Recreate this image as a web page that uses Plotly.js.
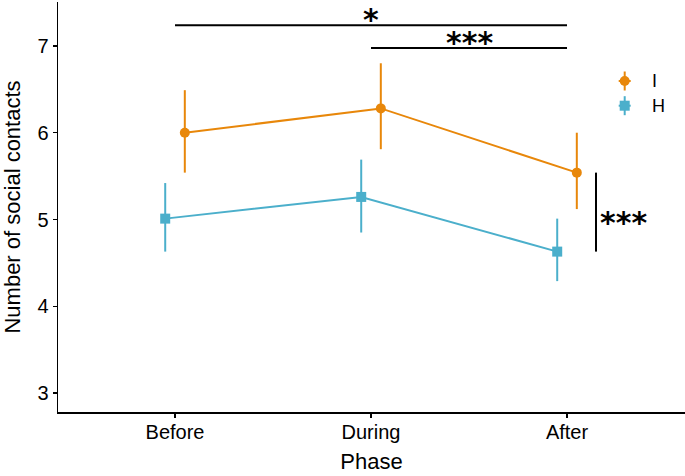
<!DOCTYPE html>
<html>
<head>
<meta charset="utf-8">
<script src="https://cdn.plot.ly/plotly-3.0.1.min.js"></script>
<style>html,body{margin:0;padding:0;background:#fff;}#chart{width:685px;height:476px;}</style>
</head>
<body>
<div id="chart"></div>
<script>
// ---- data ----
var categories = ['Before', 'During', 'After'];
var groupNames = ['I', 'H'];
var I_mean  = [6.00, 6.28, 5.54];
var I_upper = [6.49, 6.80, 6.00];
var I_lower = [5.54, 5.81, 5.12];
var H_mean  = [5.01, 5.26, 4.63];
var H_upper = [5.42, 5.69, 5.01];
var H_lower = [4.63, 4.85, 4.29];
var yTicks = [3, 4, 5, 6, 7];
// significance: [fromIndex, toIndex, label]
var sigPhase = [[0, 2, '*'], [1, 2, '***']];
var sigGroupLabel = '***';

var colI = '#E8870A', colH = '#4BAFCB';
var dodge = 0.05;
var idx = categories.map(function (c, i) { return i; });

function errUp(m, u) { return u.map(function (v, i) { return v - m[i]; }); }
function errDn(m, l) { return l.map(function (v, i) { return m[i] - v; }); }

var traces = [
  {
    x: idx.map(function (i) { return i + dodge; }), y: I_mean, name: groupNames[0],
    mode: 'lines+markers', type: 'scatter', showlegend: false,
    line: {color: colI, width: 2},
    marker: {color: colI, size: 10, symbol: 'circle'},
    error_y: {type: 'data', symmetric: false, array: errUp(I_mean, I_upper), arrayminus: errDn(I_mean, I_lower), color: colI, thickness: 2, width: 0}
  },
  {
    x: idx.map(function (i) { return i - dodge; }), y: H_mean, name: groupNames[1],
    mode: 'lines+markers', type: 'scatter', showlegend: false,
    line: {color: colH, width: 2},
    marker: {color: colH, size: 10, symbol: 'square'},
    error_y: {type: 'data', symmetric: false, array: errUp(H_mean, H_upper), arrayminus: errDn(H_mean, H_lower), color: colH, thickness: 2, width: 0}
  }
];

// layout geometry
var W = 685, H = 476, mL = 58, mR = 0, mT = 2, mB = 64;
var pw = W - mL - mR, ph = H - mT - mB;
function px2x(p) { return p / pw; }
function px2y(p) { return p / ph; }

var starFont = {size: 30, color: 'black', family: 'DejaVu Sans, sans-serif', weight: 'bold'};
var shapes = [];
var annotations = [];
// phase significance bars
var sigY = [7.238, 6.977];
sigPhase.forEach(function (s, k) {
  shapes.push({type: 'line', xref: 'x', yref: 'y', x0: s[0], x1: s[1], y0: sigY[k], y1: sigY[k], line: {color: 'black', width: 2}});
  annotations.push({xref: 'x', yref: 'y', x: (s[0] + s[1]) / 2, y: sigY[k], text: '<b>' + s[2] + '</b>', showarrow: false, yanchor: 'bottom', yshift: -14, font: starFont});
});
// group significance at the last phase
var gx = 2.148;
shapes.push({type: 'line', xref: 'x', yref: 'y', x0: gx, x1: gx, y0: I_mean[2], y1: H_mean[2], line: {color: 'black', width: 2}});
annotations.push({xref: 'x', yref: 'y', x: gx, y: (I_mean[2] + H_mean[2]) / 2, text: '<b>' + sigGroupLabel + '</b>', showarrow: false, xanchor: 'left', yanchor: 'middle', xshift: 2, yshift: -10, font: starFont});

// custom legend (marker with error-bar cross)
var legX = px2x(624.7 - mL);
var legYs = [px2y(H - mB - 81), px2y(H - mB - 105.7)];
var legCols = [colI, colH];
var legShapes = ['circle', 'rect'];
groupNames.forEach(function (g, k) {
  var cy = legYs[k];
  shapes.push({type: 'line', xref: 'paper', yref: 'paper', x0: legX - px2x(6), x1: legX + px2x(6), y0: cy, y1: cy, line: {color: legCols[k], width: 2}});
  shapes.push({type: 'line', xref: 'paper', yref: 'paper', x0: legX, x1: legX, y0: cy - px2y(9.5), y1: cy + px2y(9.5), line: {color: legCols[k], width: 2}});
  shapes.push({type: legShapes[k], xref: 'paper', yref: 'paper', x0: legX - px2x(5), x1: legX + px2x(5), y0: cy - px2y(5), y1: cy + px2y(5), fillcolor: legCols[k], line: {width: 0}});
  annotations.push({xref: 'paper', yref: 'paper', x: px2x(650 - mL), y: cy, text: g, showarrow: false, xanchor: 'left', yanchor: 'middle', font: {size: 18, color: 'black', family: 'Liberation Sans, Arial, sans-serif'}});
});

var layout = {
  width: W, height: H,
  margin: {l: mL, r: mR, t: mT, b: mB, pad: 0},
  paper_bgcolor: 'white', plot_bgcolor: 'white',
  font: {family: 'Liberation Sans, Arial, sans-serif', color: 'black', size: 20},
  showlegend: false,
  xaxis: {
    range: [-0.597, 2.602], tickmode: 'array', tickvals: idx, ticktext: categories,
    showline: true, linecolor: 'black', linewidth: 1.5, ticks: 'outside', ticklen: 4, tickwidth: 1.5, tickcolor: 'black',
    showgrid: false, zeroline: false, automargin: false,
    ticklabelstandoff: -3,
    tickfont: {size: 20, color: 'black'},
    title: {text: 'Phase', font: {size: 22, color: 'black'}, standoff: 12}
  },
  yaxis: {
    range: [2.782, 7.506], tickmode: 'array', tickvals: yTicks,
    showline: true, linecolor: 'black', linewidth: 1.5, ticks: 'outside', ticklen: 4, tickwidth: 1.5, tickcolor: 'black',
    showgrid: false, zeroline: false, automargin: false,
    tickfont: {size: 20, color: 'black'},
    title: {text: 'Number of social contacts', font: {size: 22, color: 'black'}, standoff: 12}
  },
  shapes: shapes,
  annotations: annotations
};

Plotly.newPlot('chart', traces, layout, {displayModeBar: false, staticPlot: true});
</script>
</body>
</html>
